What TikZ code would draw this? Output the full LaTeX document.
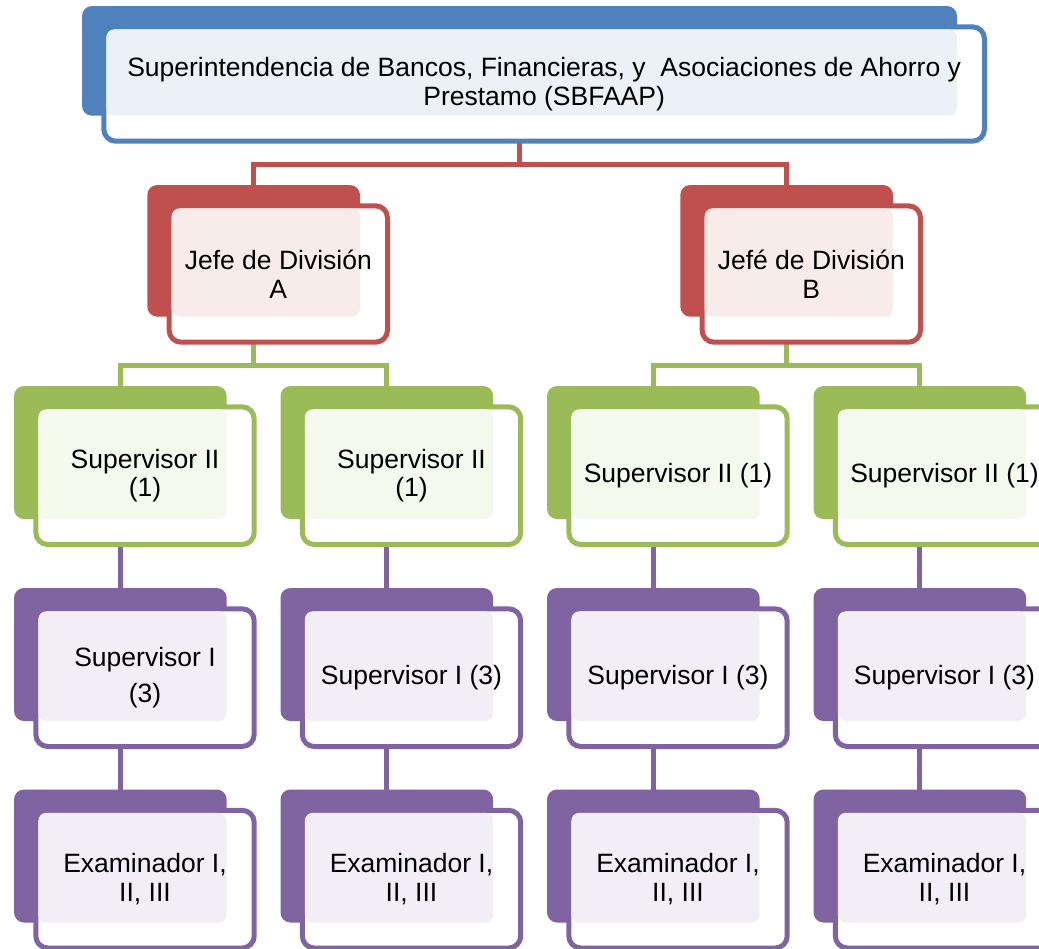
\documentclass[tikz,border=0pt]{standalone}
\usepackage{fontspec}
\setmainfont{Liberation Sans}
\usetikzlibrary{calc}
\pgfdeclarelayer{background}
\pgfsetlayers{background,main}
\definecolor{cblue}{HTML}{4F81BD}
\definecolor{cred}{HTML}{C0504D}
\definecolor{cgreen}{HTML}{9BBB59}
\definecolor{cpurple}{HTML}{8064A2}
\tikzset{
  backbox/.style={draw=none, fill=#1, rounded corners=10pt, inner sep=0pt, outer sep=0pt, anchor=north west},
  frontbox/.style={draw=#1, line width=5pt, fill=white, rounded corners=12pt, inner sep=0pt, outer sep=0pt, anchor=north west},
  tintbox/.style={draw=none, fill=#1!11!white, rounded corners=8pt, inner sep=0pt, outer sep=0pt, anchor=north west},
  labeltext/.style={font=\fontsize{26.5}{28.7}\selectfont, align=center, text=black, inner sep=0pt},
  conn/.style={draw=#1, line width=5pt, line join=miter}
}
\newcommand{\orgunit}[7]{%
  \pgfmathsetmacro{\fw}{#4+5.7}\pgfmathsetmacro{\fh}{#5+4.7}%
  \pgfmathsetmacro{\tw}{#4-24.3}\pgfmathsetmacro{\th}{#5-23.3}%
  \node[backbox=#6, minimum width=#4pt, minimum height=#5pt] (#1b) at (#2,#3) {};
  \node[frontbox=#6, minimum width=\fw pt, minimum height=\fh pt] (#1f) at ({#2+21.8},{#3+20.8}) {};
  \node[tintbox=#6, minimum width=\tw pt, minimum height=\th pt] (#1t) at ({#2+24.3},{#3+23.3}) {};
  \node[labeltext] (#1l) at (#1f.center) {#7};
}
\begin{document}
\begin{tikzpicture}[x=1pt,y=-1pt]
\useasboundingbox (0,0) rectangle (1039,948);
% top
\orgunit{top}{82}{6}{875}{109.7}{cblue}{Superintendencia de Bancos, Financieras, y\ \ Asociaciones de Ahorro y\\Prestamo (SBFAAP)}
% division heads
\orgunit{ja}{147.3}{185}{212.7}{131.7}{cred}{Jefe de División\\A}
\orgunit{jb}{680.3}{185}{212.7}{131.7}{cred}{Jefé de División\\B}
% supervisors II
\orgunit{sa}{14}{386}{212.7}{133}{cgreen}{Supervisor II\\(1)}
\orgunit{sb}{280.5}{386}{212.7}{133}{cgreen}{Supervisor II\\(1)}
\orgunit{sc}{547}{386}{212.7}{133}{cgreen}{Supervisor II (1)}
\orgunit{sd}{813.5}{386}{212.7}{133}{cgreen}{Supervisor II (1)}
% supervisors I
\orgunit{ua}{14}{588}{212.7}{133}{cpurple}{Supervisor I\\[8pt](3)}
\orgunit{ub}{280.5}{588}{212.7}{133}{cpurple}{Supervisor I (3)}
\orgunit{uc}{547}{588}{212.7}{133}{cpurple}{Supervisor I (3)}
\orgunit{ud}{813.5}{588}{212.7}{133}{cpurple}{Supervisor I (3)}
% examiners
\orgunit{ea}{14}{789.5}{212.7}{133}{cpurple}{Examinador I,\\II, III}
\orgunit{eb}{280.5}{789.5}{212.7}{133}{cpurple}{Examinador I,\\II, III}
\orgunit{ec}{547}{789.5}{212.7}{133}{cpurple}{Examinador I,\\II, III}
\orgunit{ed}{813.5}{789.5}{212.7}{133}{cpurple}{Examinador I,\\II, III}
\begin{pgfonlayer}{background}
  \draw[conn=cred] (topb.south) -- ++(0,48.3) -| (jab.north);
  \draw[conn=cred] (topb.south) -- ++(0,48.3) -| (jbb.north);
  \draw[conn=cgreen] (jab.south) -- ++(0,48.8) -| (sab.north);
  \draw[conn=cgreen] (jab.south) -- ++(0,48.8) -| (sbb.north);
  \draw[conn=cgreen] (jbb.south) -- ++(0,48.8) -| (scb.north);
  \draw[conn=cgreen] (jbb.south) -- ++(0,48.8) -| (sdb.north);
  \foreach \c in {a,b,c,d}{
    \draw[conn=cpurple] (s\c b.south) -- (u\c b.north);
    \draw[conn=cpurple] (u\c b.south) -- (e\c b.north);
  }
\end{pgfonlayer}
\end{tikzpicture}
\end{document}
